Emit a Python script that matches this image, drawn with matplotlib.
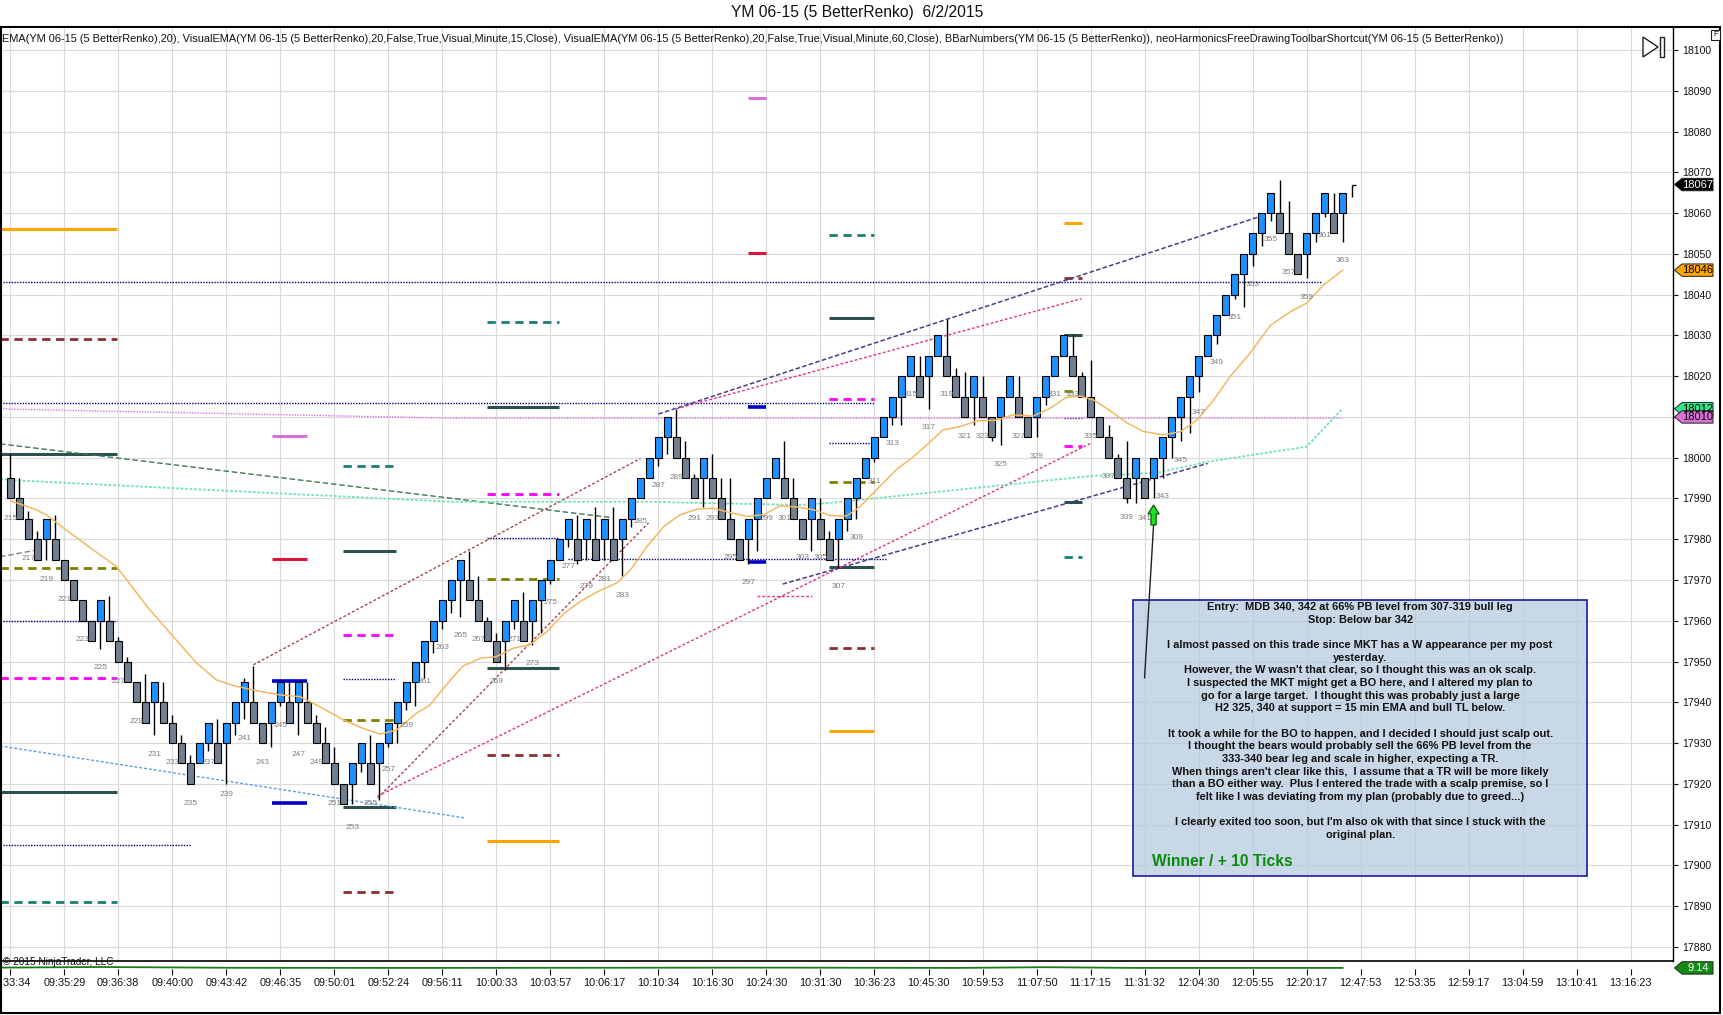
import matplotlib
matplotlib.use('Agg')
import matplotlib.pyplot as plt
import matplotlib.transforms as mtransforms
from matplotlib.patches import Polygon, Rectangle

plt.rcParams['font.family'] = ['Liberation Sans', 'DejaVu Sans']

W, H, DPI = 1723, 1015, 100

title = "YM 06-15 (5 BetterRenko)  6/2/2015"
indicator_text = ("EMA(YM 06-15 (5 BetterRenko),20), VisualEMA(YM 06-15 (5 BetterRenko),20,False,True,Visual,Minute,15,Close), "
                  "VisualEMA(YM 06-15 (5 BetterRenko),20,False,True,Visual,Minute,60,Close), BBarNumbers(YM 06-15 (5 BetterRenko)), "
                  "neoHarmonicsFreeDrawingToolbarShortcut(YM 06-15 (5 BetterRenko))")

# ---------------- Renko bars 215..363 ----------------
bars = list(range(215, 364))
opens = [17995,17990,17985,17980,17980,17980,17975,17970,17965,17960,
         17960,17960,17955,17950,17945,17940,17940,17940,17935,17930,
         17925,17925,17930,17930,17930,17935,17940,17940,17935,17935,
         17940,17940,17940,17940,17935,17930,17925,17920,17920,17925,
         17925,17925,17930,17935,17940,17945,17950,17955,17960,17965,
         17970,17970,17965,17960,17955,17955,17960,17960,17960,17965,
         17970,17975,17980,17980,17980,17980,17980,17980,17980,17985,
         17990,17995,18000,18005,18005,18000,17995,17995,17995,17990,
         17985,17980,17980,17985,17990,17995,17995,17990,17985,17985,
         17985,17980,17980,17985,17990,17995,18000,18005,18010,18015,
         18020,18020,18020,18025,18025,18020,18015,18015,18015,18010,
         18010,18015,18015,18010,18010,18015,18020,18025,18025,18020,
         18015,18010,18005,18000,17995,17995,17995,17995,18000,18005,
         18010,18015,18020,18025,18030,18035,18040,18045,18050,18055,
         18060,18060,18055,18050,18050,18055,18060,18060,18060]
closes = [17990,17985,17980,17975,17985,17975,17970,17965,17960,17955,
          17965,17955,17950,17945,17940,17935,17945,17935,17930,17925,
          17920,17930,17935,17925,17935,17940,17945,17935,17930,17940,
          17945,17935,17945,17935,17930,17925,17920,17915,17925,17930,
          17920,17930,17935,17940,17945,17950,17955,17960,17965,17970,
          17975,17965,17960,17955,17950,17960,17965,17955,17965,17970,
          17975,17980,17985,17975,17985,17975,17985,17975,17985,17990,
          17995,18000,18005,18010,18000,17995,17990,18000,17990,17985,
          17980,17975,17985,17990,17995,18000,17990,17985,17980,17990,
          17980,17975,17985,17990,17995,18000,18005,18010,18015,18020,
          18025,18015,18025,18030,18020,18015,18010,18020,18010,18005,
          18015,18020,18010,18005,18015,18020,18025,18030,18020,18015,
          18010,18005,18000,17995,17990,18000,17990,18000,18005,18010,
          18015,18020,18025,18030,18035,18040,18045,18050,18055,18060,
          18065,18055,18050,18045,18055,18060,18065,18055,18065]
highs = [18001,17995,17987,17982,17985,17986,17975,17970,17965,17960,
         17965,17966,17956,17951,17945,17947,17945,17945,17937,17932,
         17927,17930,17935,17936,17935,17940,17946,17949,17935,17940,
         17945,17945,17945,17945,17937,17934,17929,17920,17925,17930,
         17932,17930,17935,17940,17945,17950,17955,17960,17965,17970,
         17975,17977,17971,17961,17957,17960,17965,17967,17965,17970,
         17975,17980,17985,17986,17985,17988,17985,17988,17985,17990,
         17995,18000,18005,18010,18012,18004,17996,18000,18001,17995,
         17995,17980,17985,17990,17995,18000,18004,17995,17985,17990,
         17990,17982,17985,17990,17995,18000,18005,18010,18015,18020,
         18025,18025,18025,18030,18034,18022,18021,18020,18020,18010,
         18015,18020,18020,18010,18015,18020,18025,18030,18030,18021,
         18024,18010,18008,18001,18004,18000,17995,18000,18005,18010,
         18015,18020,18025,18030,18035,18040,18045,18050,18055,18060,
         18065,18068,18063,18050,18055,18060,18065,18065,18065]
lows = [17990,17985,17980,17975,17975,17975,17970,17965,17960,17955,
        17953,17955,17950,17945,17940,17935,17932,17935,17930,17925,
        17920,17925,17928,17925,17920,17932,17936,17935,17930,17929,
        17939,17935,17932,17935,17930,17925,17920,17915,17915,17923,
        17920,17916,17929,17930,17938,17939,17946,17952,17958,17962,
        17961,17965,17960,17955,17950,17948,17958,17955,17954,17957,
        17969,17975,17978,17974,17975,17975,17975,17975,17971,17983,
        17990,17995,17998,18001,18000,17995,17990,17988,17990,17985,
        17980,17975,17974,17977,17990,17995,17990,17985,17980,17977,
        17980,17975,17973,17982,17985,17995,17999,18005,18008,18008,
        18020,18015,18012,18025,18020,18015,18010,18008,18010,18004,
        18003,18015,18010,18005,18005,18013,18023,18025,18020,18015,
        18010,18005,18000,17995,17989,17989,17990,17990,17995,18000,
        18004,18006,18016,18025,18028,18035,18039,18037,18047,18052,
        18058,18055,18050,18045,18044,18053,18059,18055,18053]
# forming bar
live_bar = 364
live_low, live_high = 18064, 18067

# bar numbers (odd bars) and their label heights
label_bars = list(range(215, 364, 2))
label_prices = [17985.1,17975.3,17970.2,17965.3,17955.3,17948.5,17945.2,17935.4,17927.3,17925.3,
                17915.2,17925.3,17917.3,17931.2,17925.3,17934.4,17927.3,17925.3,17915.2,17909.4,
                17915.2,17923.4,17934.4,17945.2,17953.4,17956.3,17955.3,17945.2,17955.3,17949.4,
                17964.4,17973.4,17968.4,17970.2,17966.3,17984.3,17993.3,17995.1,17985.2,17985.2,
                17975.5,17969.4,17985.2,17985.2,17975.5,17975.5,17968.4,17980.4,17994.1,18003.4,
                18015.4,18007.4,18015.4,18005.3,18005.3,17998.4,18005.3,18000.4,18015.4,18015.4,
                18005.3,17995.3,17985.3,17985.1,17990.4,17999.2,18011.1,18023.3,18034.3,18042.4,
                18053.4,18045.4,18039.2,18054.4,18048.3]

# 20-period EMA
ema_bars = [215,217.9,219,221.2,224.2,226.8,230.2,233.1,235.7,237.9,239.8,242,245,247.2,249.4,252,254.2,
            256.1,257.9,260.1,261.6,263.9,265.3,267.2,269,270.9,272.7,274.6,276.5,278.3,280.2,282.4,283.9,
            285.7,287.6,289.4,291.3,293.1,295,296.8,298.7,300.5,302.4,304.3,306.1,307.9,309.4,311.2,313.4,
            315.3,316.8,318.6,320.5,322.3,324.5,326.4,328.6,330.5,332.3,333.8,335.3,337.2,339,340.9,343.1,
            345,346.8,348.7,350.5,352.7,355,357.2,359,360.9,363]
ema_vals = [17989.5,17987.2,17986,17982.3,17977.4,17973.3,17963.5,17956.1,17949.6,17945.5,17944.1,17943.0,
            17941.8,17941.4,17938.9,17935.7,17933.6,17932.2,17933.2,17937.3,17939.3,17945.5,17948.9,17950.8,
            17951.2,17953.3,17954.1,17957.3,17961.8,17964.7,17967.1,17969.3,17972.5,17978.2,17983.1,17986.0,
            17987.4,17987.6,17986.5,17985.6,17986,17988.2,17987.9,17987.2,17985.8,17985.7,17988.0,17992.1,
            17997,18000.2,18003.1,18006.8,18007.6,18009,18009.2,18010.5,18010.2,18012.1,18014.8,18015.1,
            18014.2,18011.5,18008.6,18006.4,18005.6,18006.4,18009.2,18014.2,18019.9,18025.6,18032.5,18035.8,
            18037.9,18042.4,18046.0]
# 15-minute visual EMA
ema15_bars = [213.9,215,263.8,285.3,302.7,306,310.9,335,342.4,348,359,363]
ema15_vals = [17994.8,17994.5,17989.2,17989.2,17988.4,17988.9,17990,17995.5,17996.3,17999,18002.7,18012.1]
# 60-minute visual EMA
ema60_bars = [213.9,215,263.8,306,363]
ema60_vals = [18012.2,18011.9,18009.7,18009.7,18009.7]

# horizontal level segments: start bar, end bar, price, kind
level_start = [213.86]*8 + [213.86,213.86,213.86,277.0] + [244.1]*4 + [252.0]*7 + [268.0]*8 + [296.9]*4 + [298.0] + [305.9]*8 + [332.1]*8
level_end   = [226.9]*8 + [235.1,360.7,311.0,312.3] + [248.0]*4 + [257.9]*7 + [275.9]*8 + [298.9]*4 + [304.1] + [311.0]*8 + [334.0]*8
level_price = [18056,18029,18001,17973,17960,17946,17918,17891,
               17905,18043,18013.3,17975.1,
               18005.4,17975.2,17945.2,17915.3,
               17998,17977.1,17956.5,17945.7,17935.7,17914.4,17893.5,
               18033.3,18012.4,17991.1,17980.2,17970.2,17948.3,17927.1,17906,
               18088.3,18050.3,18012.4,17974.3,
               17966,
               18054.6,18034.3,18014.3,18003.5,17994.1,17973.3,17953.2,17933.0,
               18057.6,18044.1,18030.2,18016.4,18009.8,18002.9,17989.2,17975.7]
level_kind = ['orange','darkred','slate','olive','navy','magenta','slate','teal',
              'navy','navy','navy','navy',
              'orchid','crimson','blue','blue',
              'teal','slate','magenta','navy','olive','slate','darkred',
              'teal','slate','magenta','navy','olive','slate','darkred','orange',
              'orchid','crimson','blue','blue',
              'crimdot',
              'teal','slate','magenta','navy','olive','slate','darkred','orange',
              'orange','darkred','slate','olive','navy','magenta','slate','teal']

# drawn trend lines
trend_x0 = [242, 255.8, 255.8, 300.8, 287, 289, 213.86, 213.86, 213.86]
trend_y0 = [17949.2, 17916.5, 17917, 17969, 18010.7, 18012, 17929.3, 18003.4, 17975.7]
trend_x1 = [285, 285.9, 335, 348, 354, 334, 265.6, 281.8, 218.1]
trend_y1 = [17999.8, 17984, 18003.5, 17998.6, 18059.3, 18039, 17911.6, 17985.3, 17977.4]
trend_kind = ['brown','brown','pink','purple','purple','pink','lightblue','green','gray']

# time axis
tick_bars = list(range(215, 396, 6))
tick_labels = ["09:33:34","09:35:29","09:36:38","09:40:00","09:43:42","09:46:35","09:50:01","09:52:24",
               "09:56:11","10:00:33","10:03:57","10:06:17","10:10:34","10:16:30","10:24:30","10:31:30",
               "10:36:23","10:45:30","10:59:53","11:07:50","11:17:15","11:31:32","12:04:30","12:05:55",
               "12:20:17","12:47:53","12:53:35","12:59:17","13:04:59","13:10:41","13:16:23"]
price_ticks = list(range(17880, 18101, 10))

# lower panel indicator
osc_bars = [213.86, 225, 240, 260, 300, 320, 330, 340, 363]
osc_vals = [9.3, 9.6, 9.2, 9.14, 9.3, 9.14, 9.5, 9.14, 9.14]

box_lines = ["Entry:  MDB 340, 342 at 66% PB level from 307-319 bull leg",
             "Stop: Below bar 342",
             "",
             "I almost passed on this trade since MKT has a W appearance per my post",
             "yesterday.",
             "However, the W wasn't that clear, so I thought this was an ok scalp.",
             "I suspected the MKT might get a BO here, and I altered my plan to",
             "go for a large target.  I thought this was probably just a large",
             "H2 325, 340 at support = 15 min EMA and bull TL below.",
             "",
             "It took a while for the BO to happen, and I decided I should just scalp out.",
             "I thought the bears would probably sell the 66% PB level from the",
             "333-340 bear leg and scale in higher, expecting a TR.",
             "When things aren't clear like this,  I assume that a TR will be more likely",
             "than a BO either way.  Plus I entered the trade with a scalp premise, so I",
             "felt like I was deviating from my plan (probably due to greed...)",
             "",
             "I clearly exited too soon, but I'm also ok with that since I stuck with the",
             "original plan."]
winner_text = "Winner / + 10 Ticks"

# ---------------- styles ----------------
level_styles = {
    'orange':  dict(color='#FFA500', ls='-',  lw=2.2),
    'darkred': dict(color='#8B2E2E', ls=(0, (3, 2)), lw=2.0),
    'slate':   dict(color='#2F4F4F', ls='-',  lw=2.2),
    'olive':   dict(color='#808000', ls=(0, (3, 2)), lw=2.0),
    'navy':    dict(color='#000080', ls=(0, (1, 1)), lw=1.0),
    'magenta': dict(color='#FF00FF', ls=(0, (3, 2)), lw=2.0),
    'teal':    dict(color='#1A7F70', ls=(0, (3, 2)), lw=2.0),
    'orchid':  dict(color='#DA70D6', ls='-',  lw=2.2),
    'crimson': dict(color='#DC143C', ls='-',  lw=2.2),
    'blue':    dict(color='#0000CD', ls='-',  lw=2.6),
    'crimdot': dict(color='#E0406A', ls=(0, (2, 1.5)), lw=1.0),
}
trend_styles = {
    'brown':     dict(color='#A04848', ls=(0, (2, 1.5)), lw=1.0),
    'pink':      dict(color='#E0308A', ls=(0, (2, 1.5)), lw=1.0),
    'purple':    dict(color='#483D8B', ls=(0, (3, 1.5)), lw=1.1),
    'lightblue': dict(color='#5599EE', ls=(0, (2, 1.5)), lw=1.0),
    'green':     dict(color='#3A7A50', ls=(0, (4, 2)), lw=1.0),
    'gray':      dict(color='#7A8A80', ls=(0, (4, 2)), lw=1.0),
}

fig = plt.figure(figsize=(W / DPI, H / DPI), dpi=DPI)
fig.patch.set_facecolor('white')

def fx(px):
    return px / W

def fy(py):
    return 1 - py / H

ax = fig.add_axes([0, fy(961), fx(1673), (961 - 27) / H])
axb = fig.add_axes([0, fy(969), fx(1673), 8 / H], sharex=ax)

ax.set_xlim(213.86, 399.7)
ax.set_ylim(17876.55, 18105.64)
ax.set_axisbelow(True)
ax.set_xticks(tick_bars)
ax.set_yticks(price_ticks)
ax.grid(True, color='#DADADA', lw=0.8)
ax.yaxis.tick_right()
ax.tick_params(axis='y', direction='out', length=3.6, width=0.8, pad=3.2, labelsize=7.6, colors='#111111')
ax.tick_params(axis='x', length=0, labelbottom=False)
for s in ['top', 'left']:
    ax.spines[s].set_visible(False)
ax.spines['right'].set_linewidth(1.0)
ax.spines['bottom'].set_linewidth(1.2)

# levels
for x0, x1, p, k in zip(level_start, level_end, level_price, level_kind):
    st = level_styles[k]
    ax.plot([x0, x1], [p, p], color=st['color'], linestyle=st['ls'], lw=st['lw'], zorder=2, solid_capstyle='butt')

# trend lines
for x0, y0, x1, y1, k in zip(trend_x0, trend_y0, trend_x1, trend_y1, trend_kind):
    st = trend_styles[k]
    ax.plot([x0, x1], [y0, y1], color=st['color'], linestyle=st['ls'], lw=st['lw'], zorder=2)

# indicator lines
ax.plot(ema60_bars, ema60_vals, color='#DA70D6', ls=(0, (1, 1)), lw=1.0, zorder=2)
ax.plot(ema15_bars, ema15_vals, color='#6EE3B0', ls=(0, (1.5, 1)), lw=1.3, zorder=2)

# candles
up_col, dn_col = '#1E90FF', '#708090'
ax.vlines(bars, lows, highs, color='black', lw=1.0, zorder=3)
heights = [c - o for o, c in zip(opens, closes)]
cols = [up_col if c > o else dn_col for o, c in zip(opens, closes)]
ax.bar(bars, heights, bottom=opens, width=0.74, color=cols, edgecolor='black', linewidth=0.8, zorder=4)
ax.vlines([live_bar], [live_low], [live_high], color='black', lw=1.0, zorder=3)
ax.hlines([live_high], [live_bar], [live_bar + 0.45], color='black', lw=1.0, zorder=3)

ax.plot(ema_bars, ema_vals, color='#F4B862', lw=1.1, zorder=5)

for b, p in zip(label_bars, label_prices):
    ax.text(b, p, str(b), fontsize=6.0, color='#7F7F7F', ha='center', va='center', zorder=5)

# annotation box
box_x0, box_x1 = 339.7, 390.2
box_y0, box_y1 = 17897.4, 17965.1
ax.add_patch(Rectangle((box_x0, box_y0), box_x1 - box_x0, box_y1 - box_y0,
                       facecolor=(0.70, 0.786, 0.871, 0.7), edgecolor='#1A1AA0', lw=1.2, zorder=6))
box_cx = (box_x0 + box_x1) / 2
line_texts = []
for i, ln in enumerate(box_lines):
    if not ln:
        continue
    off_px = 7 + i * 12.67
    t = ax.annotate(ln, xy=(box_cx, box_y1), xycoords='data', xytext=(0, -off_px * 0.72),
                    textcoords='offset points', ha='center', va='center', fontsize=7.7,
                    fontweight='bold', color='#111111', zorder=7)
    line_texts.append(t)
win = ax.annotate(winner_text, xy=(341.85, box_y1), xycoords='data', xytext=(0, -262 * 0.72),
                  textcoords='offset points', ha='left', va='center', fontsize=9.5,
                  fontweight='bold', color='#0A8A0A', zorder=7)

# pointer line and arrow
ax.plot([342, 341], [17983.5, 17946.0], color='#202020', lw=1.0, zorder=6)
arrow_tr = mtransforms.ScaledTranslation(342, 17983.5, ax.transData)
arrow = Polygon([(-2.6, 0), (2.6, 0), (2.6, 11), (5.6, 11), (0, 20), (-5.6, 11), (-2.6, 11)],
                closed=True, facecolor='#22DD22', edgecolor='#0A5A0A', lw=0.9, transform=arrow_tr, zorder=8)
fig.add_artist(arrow)

# lower panel
axb.set_ylim(8.6, 12.6)
axb.plot(osc_bars, osc_vals, color='#1F7A1F', lw=1.3)
for s in axb.spines.values():
    s.set_visible(False)
axb.set_yticks([])
axb.set_xticks(tick_bars)
axb.set_xticklabels(tick_labels)
axb.tick_params(axis='x', direction='out', length=4.3, width=0.8, pad=2.0, labelsize=7.8, colors='#111111')
axb.patch.set_alpha(0)

# price tags on right axis
def tag(axis_obj, yval, text, fc, tc):
    blend = mtransforms.blended_transform_factory(axis_obj.transAxes, axis_obj.transData)
    tr = mtransforms.ScaledTranslation(1.0, yval, blend)
    poly = Polygon([(1.5, 0), (9, 6.2), (40, 6.2), (40, -6.2), (9, -6.2)], closed=True,
                   facecolor=fc, edgecolor='#222222', lw=0.7, transform=tr, zorder=10)
    fig.add_artist(poly)
    fig.text(25, 0, text, transform=tr, ha='center', va='center', fontsize=8, color=tc, zorder=11)

tag(ax, 18067, "18067", 'black', 'white')
tag(ax, 18046, "18046", '#FFA500', 'black')
tag(ax, 18012, "18012", '#2EE88A', 'black')
tag(ax, 18010, "18010", '#DA70D6', 'black')
tag(axb, 9.14, "9.14", '#138A13', 'white')

# header texts
ttl = fig.text(fx(857), fy(13), title, ha='center', va='center', fontsize=10, color='#111111')
ind = fig.text(fx(2), fy(39), indicator_text, ha='left', va='center', fontsize=8, color='#111111')
fig.text(fx(3), fy(962), "\u00a9 2015 NinjaTrader, LLC", ha='left', va='center', fontsize=7.2, color='#111111')

# fit text widths to reference
fig.canvas.draw()
r = fig.canvas.get_renderer()
def fit(t, target):
    w = t.get_window_extent(r).width
    t.set_fontsize(t.get_fontsize() * target / w)
fit(ind, 1503)
fit(ttl, 253)
w0 = line_texts[0].get_window_extent(r).width
scale = 303 / w0
for t in line_texts:
    t.set_fontsize(t.get_fontsize() * scale)
fit(win, 141)

# figure frame and toolbar glyphs
fig.add_artist(Rectangle((fx(0.8), fy(1013)), fx(1720.5) - fx(0.8), fy(27) - fy(1013),
                         transform=fig.transFigure, fill=False, edgecolor='black', lw=1.5, zorder=12))
fig.add_artist(Polygon([(fx(1643), fy(37)), (fx(1643), fy(57)), (fx(1658), fy(47))], closed=True,
                       transform=fig.transFigure, facecolor='white', edgecolor='#222222', lw=1.0, zorder=12))
fig.add_artist(Rectangle((fx(1660), fy(57)), fx(4), 20 / H, transform=fig.transFigure,
                         facecolor='white', edgecolor='#222222', lw=1.0, zorder=12))
fig.add_artist(Rectangle((fx(1711), fy(40)), fx(9), 10 / H, transform=fig.transFigure,
                         facecolor='white', edgecolor='#222222', lw=0.8, zorder=12))
fig.text(fx(1715.5), fy(35), "F", ha='center', va='center', fontsize=6, color='#111111', zorder=13)

fig.savefig('out.png', dpi=DPI)
